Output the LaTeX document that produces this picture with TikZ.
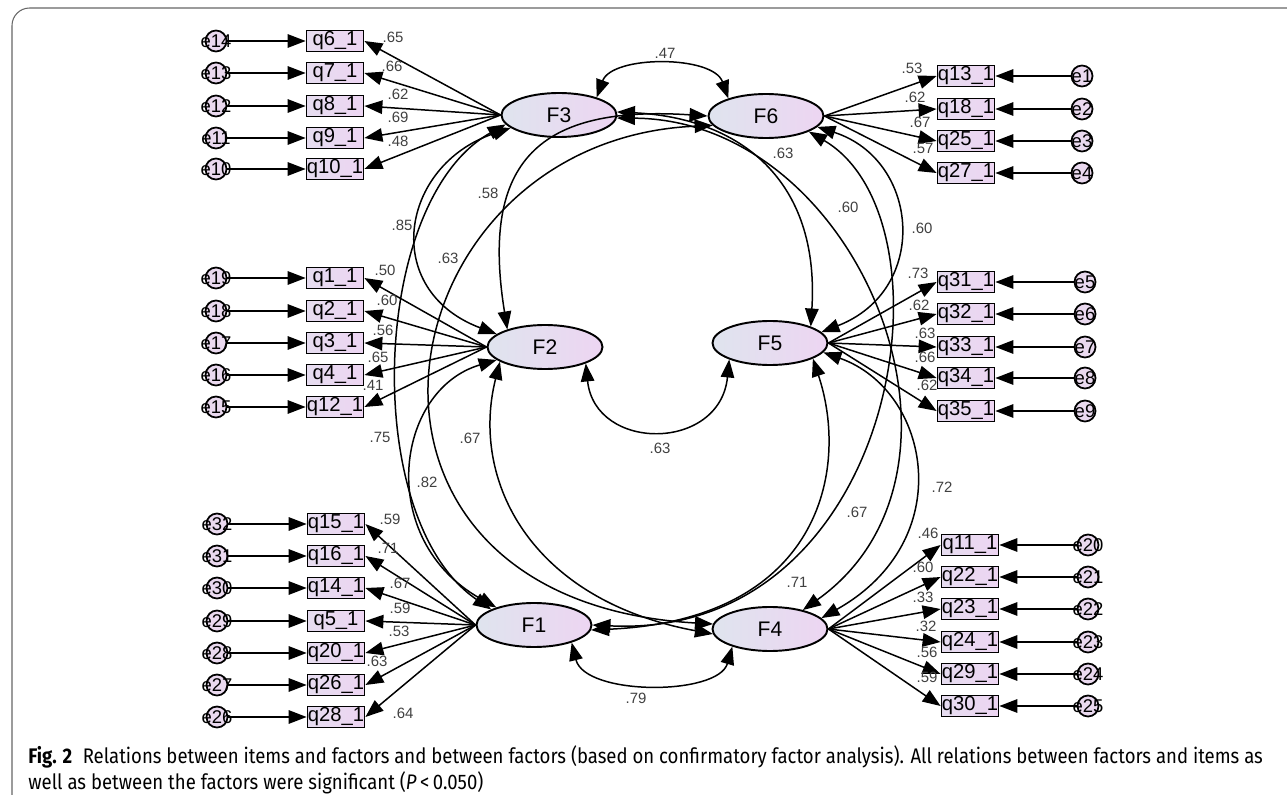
\documentclass[tikz,border=0pt]{standalone}
\usepackage{fontspec}
\setmainfont{Liberation Sans}
\newfontfamily\capfont[FakeStretch=0.88]{Fira Sans}
\usetikzlibrary{arrows.meta, shapes.geometric}
\definecolor{factorL}{HTML}{DFE4EE}
\definecolor{factorR}{HTML}{EDD5F2}
\definecolor{errfill}{HTML}{EAD9EF}
\tikzset{
	>={Triangle[length=3.6mm, width=2.7mm]}, % big filled heads as in AMOS
	factor/.style={ellipse, draw, line width=1.1pt, minimum width=23mm, minimum height=8.8mm, left color=factorL, right color=factorR, font=\fontsize{12}{14}\selectfont}, % latent factors
	item/.style={rectangle, draw, line width=1pt, minimum width=11.4mm, minimum height=4.2mm, inner sep=0pt, left color=factorL!50!factorR, right color=factorR, font=\fontsize{11.5}{12}\selectfont}, % observed items
	err/.style={circle, draw, line width=1pt, minimum size=4.2mm, inner sep=0pt, fill=errfill, font=\fontsize{10.5}{12}\selectfont}, % error terms
	lbl/.style={font=\fontsize{8.5}{10}\selectfont, inner sep=0pt, text=black!75}, % estimates
	load/.style={->, line width=0.85pt},
	cov/.style={<->, line width=0.85pt},
}

\begin{document}
\begin{tikzpicture}[x=0.2mm, y=-0.2mm]
	\useasboundingbox (0,0) rectangle (1287,795);
	\draw[line width=0.6pt, rounded corners=10pt, black!60] (1287,8) -- (12,8) -- (12,800);

	% Factors
	\node[factor] (F3) at (559,115) {F3};
	\node[factor] (F6) at (766,116) {F6};
	\node[factor] (F2) at (545,347) {F2};
	\node[factor] (F5) at (770,343) {F5};
	\node[factor] (F1) at (534,625) {F1};
	\node[factor] (F4) at (770,629) {F4};

	% Items, errors and loadings
	\foreach \q/\e/\y/\lx/\ly/\v in {6/14/41/393/37/.65, 7/13/73/392/66/.66, 8/12/106/398/94/.62, 9/11/138/398/117/.69, 10/10/169/398/141/.48}{
		\node[item] (q\q) at (335,\y) {\makebox[0pt]{q\q\_1}};
		\node[err] (e\e) at (216,\y) {\makebox[0pt]{e\e}};
		\draw[load] (e\e) -- (q\q);
		\draw[load] (F3.west) -- (q\q.east);
		\node[lbl] (l\q) at (\lx,\ly) {\v};
	}
	\foreach \q/\e/\y/\lx/\ly/\v in {1/19/278/385/270/.50, 2/18/311/387/300/.60, 3/17/343/383/330/.56, 4/16/375/378/357/.65, 12/15/407/373/385/.41}{
		\node[item] (q\q) at (335,\y) {\makebox[0pt]{q\q\_1}};
		\node[err] (e\e) at (216,\y) {\makebox[0pt]{e\e}};
		\draw[load] (e\e) -- (q\q);
		\draw[load] (F2.west) -- (q\q.east);
		\node[lbl] (l\q) at (\lx,\ly) {\v};
	}
	\foreach \q/\e/\y/\lx/\ly/\v in {15/32/524/390/519/.59, 16/31/556/388/548/.71, 14/30/588/400/583/.67, 5/29/621/400/608/.59, 20/28/653/399/631/.53, 26/27/685/377/661/.63, 28/26/717/403/713/.64}{
		\node[item] (q\q) at (336,\y) {\makebox[0pt]{q\q\_1}};
		\node[err] (e\e) at (217,\y) {\makebox[0pt]{e\e}};
		\draw[load] (e\e) -- (q\q);
		\draw[load] (F1.west) -- (q\q.east);
		\node[lbl] (l\q) at (\lx,\ly) {\v};
	}
	\foreach \q/\e/\y/\lx/\ly/\v in {13/1/76/912/68/.53, 18/2/109/915/97/.62, 25/3/141/920/122/.67, 27/4/173/923/148/.57}{
		\node[item] (q\q) at (966,\y) {\makebox[0pt]{q\q\_1}};
		\node[err] (e\e) at (1082,\y) {\makebox[0pt]{e\e}};
		\draw[load] (e\e) -- (q\q);
		\draw[load] (F6.east) -- (q\q.west);
		\node[lbl] (l\q) at (\lx,\ly) {\v};
	}
	\foreach \q/\e/\y/\lx/\ly/\v in {31/5/282/918/273/.73, 32/6/314/919/305/.62, 33/7/347/925/333/.63, 34/8/378/925/357/.66, 35/9/411/927/385/.62}{
		\node[item] (q\q) at (966,\y) {\makebox[0pt]{q\q\_1}};
		\node[err] (e\e) at (1085,\y) {\makebox[0pt]{e\e}};
		\draw[load] (e\e) -- (q\q);
		\draw[load] (F5.east) -- (q\q.west);
		\node[lbl] (l\q) at (\lx,\ly) {\v};
	}
	\foreach \q/\e/\y/\lx/\ly/\v in {11/20/545/928/533/.46, 22/21/577/923/567/.60, 23/22/609/923/597/.33, 24/23/642/926/626/.32, 29/24/674/927/652/.56, 30/25/706/927/677/.59}{
		\node[item] (q\q) at (970,\y) {\makebox[0pt]{q\q\_1}};
		\node[err] (e\e) at (1088,\y) {\makebox[0pt]{e\e}};
		\draw[load] (e\e) -- (q\q);
		\draw[load] (F4.east) -- (q\q.west);
		\node[lbl] (l\q) at (\lx,\ly) {\v};
	}

	% Covariances between factors
	\draw[cov] (F3.25) .. controls (612,55) and (713,55) .. (F6.155);
	\draw[cov] (F2.-22) .. controls (595,452) and (720,452) .. (F5.202);
	\draw[cov] (F1.-25) .. controls (585,696) and (718,696) .. (F4.205);
	\draw[cov] (F3.195) .. controls (400,165) and (380,290) .. (F2.165);
	\draw[cov] (F3.190) .. controls (370,200) and (360,520) .. (F1.160);
	\draw[cov] (F2.195) .. controls (395,390) and (375,540) .. (F1.155);
	\draw[cov] (F6.west) .. controls (540,105) and (480,160) .. (F2.155);
	\draw[cov] (F6.190) .. controls (380,140) and (300,600) .. (F4.175);
	\draw[cov] (F2.198) .. controls (470,480) and (530,600) .. (F4.185);
	\draw[cov] (F3.3) .. controls (740,118) and (820,180) .. (F5.22);
	\draw[cov] (F3.-3) .. controls (860,120) and (1000,470) .. (F4.30);
	\draw[cov] (F6.-12) .. controls (920,160) and (930,290) .. (F5.12);
	\draw[cov] (F5.-10) .. controls (930,390) and (960,540) .. (F4.12);
	\draw[cov] (F6.-20) .. controls (960,220) and (900,640) .. (F1.east);
	\draw[cov] (F5.-20) .. controls (850,470) and (820,620) .. (F1.-5);

	% Correlation estimates
	\node[lbl] (c1) at (665,53) {.47};
	\node[lbl] (c2) at (660,448) {.63};
	\node[lbl] (c3) at (636,698) {.79};
	\node[lbl] (c4) at (402,225) {.85};
	\node[lbl] (c5) at (380,437) {.75};
	\node[lbl] (c6) at (427,482) {.82};
	\node[lbl] (c7) at (488,193) {.58};
	\node[lbl] (c8) at (448,258) {.63};
	\node[lbl] (c9) at (470,438) {.67};
	\node[lbl] (c10) at (783,153) {.63};
	\node[lbl] (c11) at (848,207) {.60};
	\node[lbl] (c12) at (922,228) {.60};
	\node[lbl] (c13) at (942,487) {.72};
	\node[lbl] (c14) at (857,512) {.67};
	\node[lbl] (c15) at (797,582) {.71};

	% Caption
	\node[anchor=west, inner sep=0pt, font=\capfont\fontsize{12}{14}\selectfont] (cap1) at (28,757) {\textbf{Fig. 2}\enspace Relations between items and factors and between factors (based on confirmatory factor analysis). All relations between factors and items as};
	\node[anchor=west, inner sep=0pt, font=\capfont\fontsize{12}{14}\selectfont] (cap2) at (28,783) {well as between the factors were significant (\textit{P}\,<\,0.050)};
\end{tikzpicture}
\end{document}
